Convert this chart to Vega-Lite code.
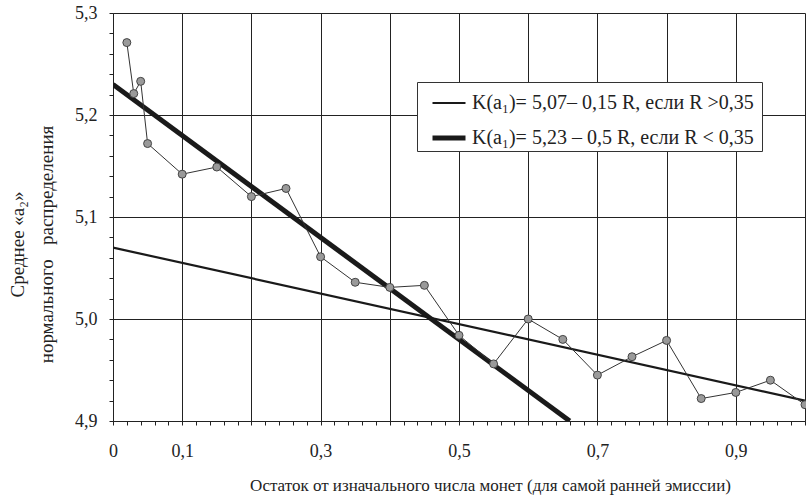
{
  "$schema": "https://vega.github.io/schema/vega-lite/v6.json",
  "width": 692,
  "height": 408,
  "autosize": {"type": "none"},
  "padding": {"left": 113, "top": 13, "right": 1, "bottom": 78},
  "background": "white",
  "config": {
    "view": {"stroke": null},
    "font": "Liberation Serif",
    "axis": {"labelFont": "Liberation Serif", "titleFont": "Liberation Serif", "labelColor": "#222", "titleColor": "#222", "titleFontWeight": "normal", "domainColor": "#222", "tickColor": "#222", "gridColor": "#222", "gridWidth": 1, "tickSize": 4}
  },
  "datasets": {
    "obs": [
      {"R": 0.02, "v": 5.271}, {"R": 0.03, "v": 5.221}, {"R": 0.04, "v": 5.233}, {"R": 0.05, "v": 5.172},
      {"R": 0.1, "v": 5.142}, {"R": 0.15, "v": 5.149}, {"R": 0.2, "v": 5.12}, {"R": 0.25, "v": 5.128},
      {"R": 0.3, "v": 5.061}, {"R": 0.35, "v": 5.036}, {"R": 0.4, "v": 5.031}, {"R": 0.45, "v": 5.033},
      {"R": 0.5, "v": 4.984}, {"R": 0.55, "v": 4.956}, {"R": 0.6, "v": 5.0}, {"R": 0.65, "v": 4.98},
      {"R": 0.7, "v": 4.945}, {"R": 0.75, "v": 4.963}, {"R": 0.8, "v": 4.979}, {"R": 0.85, "v": 4.922},
      {"R": 0.9, "v": 4.928}, {"R": 0.95, "v": 4.94}, {"R": 1.0, "v": 4.916}
    ],
    "fit": [
      {"series": "K(a₁)= 5,07– 0,15 R, если R >0,35", "R": 0, "v": 5.07},
      {"series": "K(a₁)= 5,07– 0,15 R, если R >0,35", "R": 1, "v": 4.92},
      {"series": "K(a₁)= 5,23 – 0,5 R,  если R < 0,35", "R": 0, "v": 5.23},
      {"series": "K(a₁)= 5,23 – 0,5 R,  если R < 0,35", "R": 0.66, "v": 4.9}
    ]
  },
  "encoding": {
    "x": {
      "field": "R", "type": "quantitative",
      "scale": {"domain": [0, 1], "nice": false, "zero": false},
      "axis": {
        "title": "Остаток от изначального числа монет (для самой ранней эмиссии)",
        "titleFontSize": 17, "titleX": 377, "titleY": 64, "titleBaseline": "middle", "titleAnchor": null, "titleAlign": "center",
        "values": [0,0.02,0.04,0.06,0.08,0.1,0.12,0.14,0.16,0.18,0.2,0.22,0.24,0.26,0.28,0.3,0.32,0.34,0.36,0.38,0.4,0.42,0.44,0.46,0.48,0.5,0.52,0.54,0.56,0.58,0.6,0.62,0.64,0.66,0.68,0.7,0.72,0.74,0.76,0.78,0.8,0.82,0.84,0.86,0.88,0.9,0.92,0.94,0.96,0.98,1],
        "labelExpr": "(abs(datum.value*10 - round(datum.value*10)) < 0.001 && round(datum.value*10) < 10 && (round(datum.value*10) == 0 || round(datum.value*10) % 2 == 1)) ? (round(datum.value*10) == 0 ? '0' : replace(format(datum.value, '.1f'), '.', ',')) : ''",
        "labelFontSize": 18, "labelPadding": 17, "labelOverlap": false, "labelFlush": false, "labelBound": false,
        "grid": true,
        "gridOpacity": {"condition": {"test": "abs(datum.value*10 - round(datum.value*10)) < 0.001", "value": 1}, "value": 0}
      }
    },
    "y": {
      "field": "v", "type": "quantitative",
      "scale": {"domain": [4.9, 5.3], "nice": false, "zero": false},
      "axis": {
        "title": ["Среднее «a₂»", "нормального\u00a0\u00a0\u00a0распределения"],
        "titleFontSize": 19, "titleLineHeight": 29, "titleAngle": -90, "titleX": -105, "titleY": 231, "titleBaseline": "top", "titleAlign": "center",
        "values": [4.9,4.92,4.94,4.96,4.98,5.0,5.02,5.04,5.06,5.08,5.1,5.12,5.14,5.16,5.18,5.2,5.22,5.24,5.26,5.28,5.3],
        "labelExpr": "abs(datum.value*10 - round(datum.value*10)) < 0.001 ? replace(format(datum.value, '.1f'), '.', ',') : ''",
        "labelFontSize": 18, "labelPadding": 12, "labelOverlap": false, "labelFlush": false, "labelBound": false,
        "grid": true,
        "gridOpacity": {"condition": {"test": "abs(datum.value*10 - round(datum.value*10)) < 0.001", "value": 1}, "value": 0}
      }
    }
  },
  "layer": [
    {
      "data": {"name": "fit"},
      "mark": {"type": "line", "color": "#1a1a1a", "clip": true},
      "encoding": {
        "strokeWidth": {
          "field": "series", "type": "ordinal",
          "scale": {"domain": ["K(a₁)= 5,07– 0,15 R, если R >0,35", "K(a₁)= 5,23 – 0,5 R,  если R < 0,35"], "range": [2.2, 5]},
          "legend": {
            "title": null, "orient": "none", "legendX": 304, "legendY": 69,
            "fillColor": "white", "strokeColor": "#333", "padding": 3,
            "symbolType": "stroke", "symbolSize": 1089, "symbolStrokeColor": "#1a1a1a", "symbolOffset": 10,
            "labelOffset": 4, "labelFont": "Liberation Serif", "labelFontSize": 20, "labelColor": "#222",
            "rowPadding": 6, "labelLimit": 400
          }
        }
      }
    },
    {
      "data": {"name": "obs"},
      "mark": {"type": "line", "color": "#333", "strokeWidth": 1},
      "encoding": {}
    },
    {
      "data": {"name": "obs"},
      "mark": {"type": "point", "filled": true, "fill": "#9a9a9a", "stroke": "#444", "strokeWidth": 1, "size": 64, "opacity": 1},
      "encoding": {}
    }
  ]
}
